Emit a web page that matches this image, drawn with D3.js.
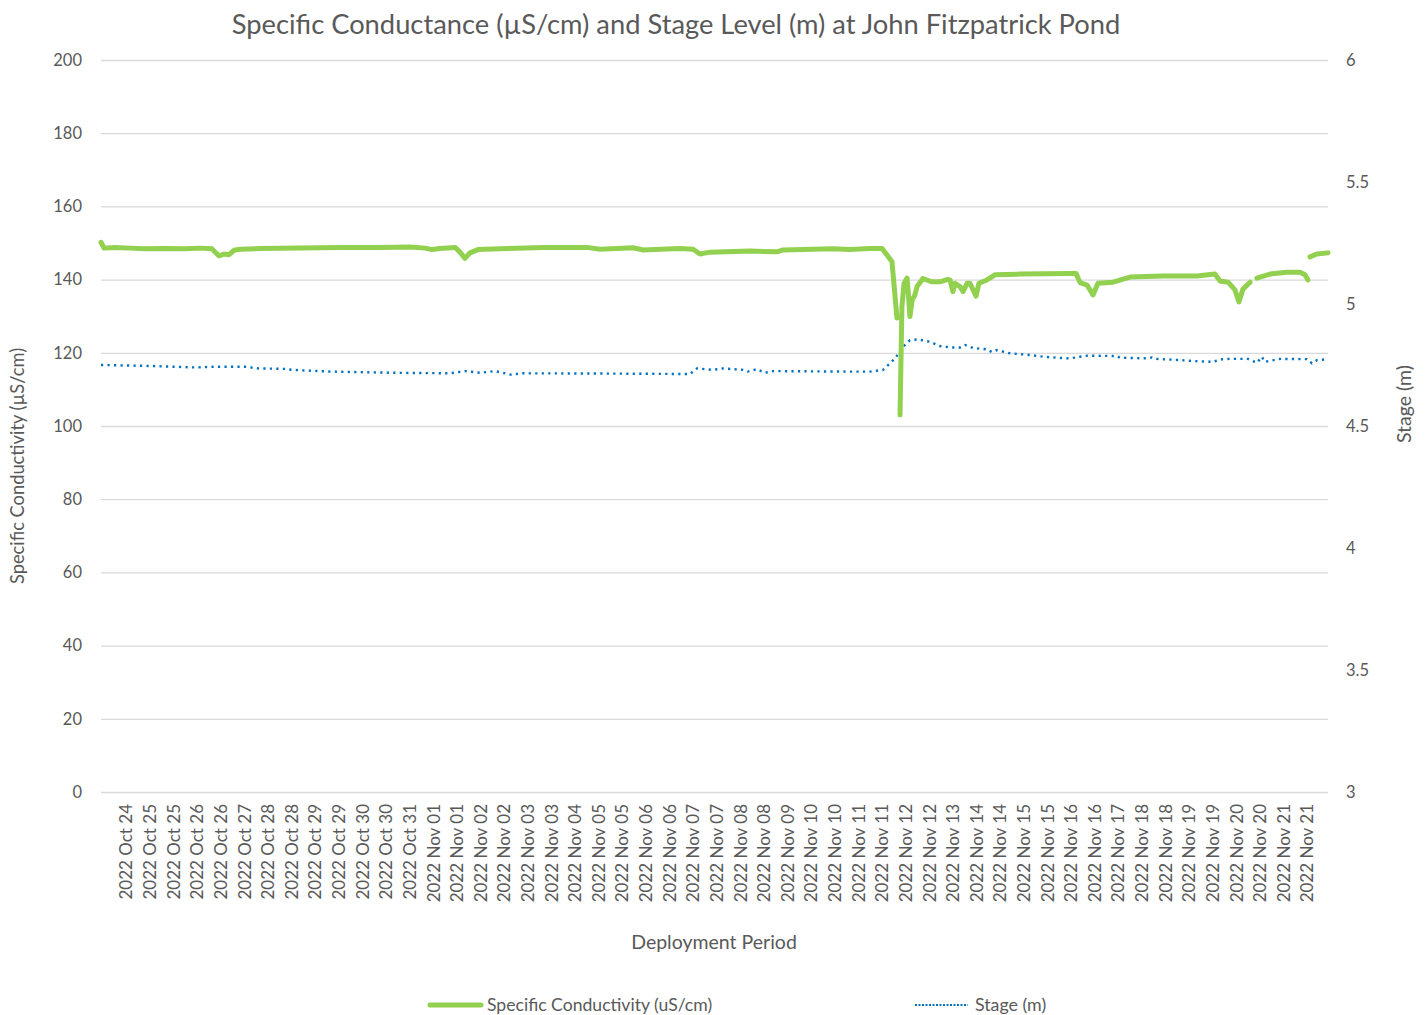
<!DOCTYPE html>
<html>
<head>
<meta charset="utf-8">
<script src="https://cdn.jsdelivr.net/npm/d3@7"></script>
<style>
  body { margin: 0; background: #fff; }
  svg text { font-family: Lato, "Open Sans", sans-serif; fill: #595959; }
</style>
</head>
<body>
<svg id="chart"></svg>
<script>
const svg = d3.select("#chart");
const width = 1427;
const height = 1015;

// category labels along the x axis (one per tick, Excel-style)
const tickLabels = [
  "2022 Oct 24", "2022 Oct 25", "2022 Oct 25", "2022 Oct 26", "2022 Oct 26", "2022 Oct 27",
  "2022 Oct 28", "2022 Oct 28", "2022 Oct 29", "2022 Oct 29", "2022 Oct 30", "2022 Oct 30",
  "2022 Oct 31", "2022 Nov 01", "2022 Nov 01", "2022 Nov 02", "2022 Nov 02", "2022 Nov 03",
  "2022 Nov 03", "2022 Nov 04", "2022 Nov 05", "2022 Nov 05", "2022 Nov 06", "2022 Nov 06",
  "2022 Nov 07", "2022 Nov 07", "2022 Nov 08", "2022 Nov 08", "2022 Nov 09", "2022 Nov 10",
  "2022 Nov 10", "2022 Nov 11", "2022 Nov 11", "2022 Nov 12", "2022 Nov 12", "2022 Nov 13",
  "2022 Nov 14", "2022 Nov 14", "2022 Nov 15", "2022 Nov 15", "2022 Nov 16", "2022 Nov 16",
  "2022 Nov 17", "2022 Nov 18", "2022 Nov 18", "2022 Nov 19", "2022 Nov 19", "2022 Nov 20",
  "2022 Nov 20", "2022 Nov 21", "2022 Nov 21"
];

// position along the axis, in tick-label units (label i sits at i)
const xStart = -1.06;
const xEnd = 50.89;

// Specific conductivity (uS/cm); null = gap in the record
const condPos = [
  -1.06, -0.93, -0.47, 0.17, 0.80, 1.65, 2.50, 3.13, 3.64, 3.77, 3.94, 4.15, 4.36, 4.57, 4.83,
  5.67, 7.37, 9.06, 10.75, 12.02, 12.66, 12.96, 13.29, 13.93, 14.14, 14.35, 14.56, 14.90, 15.83,
  17.65, 19.52, 20.07, 21.46, 21.89, 23.45, 24.01, 24.30, 24.72, 26.42, 27.56, 27.82, 29.93,
  30.65, 31.50, 32.01, 32.22, 32.43, 32.51, 32.64, 32.70,
  32.77, 32.85, 32.94, 33.07, 33.11, 33.19, 33.28, 33.40, 33.49, 33.74, 34.12, 34.46, 34.76,
  34.89, 35.01, 35.10, 35.31, 35.44, 35.61, 35.73, 35.99, 36.11, 36.45, 36.79, 37.85, 39.97,
  40.22, 40.39, 40.69, 40.94, 41.15, 41.79, 42.51, 43.90, 45.34, 46.10, 46.32, 46.66, 46.95,
  47.12, 47.29, 47.59, 47.73,
  47.88, 48.43, 49.15, 49.70, 49.92, 50.04, 50.08,
  50.13, 50.42, 50.89
];
const condVal = [
  150.2, 148.6, 148.8, 148.6, 148.4, 148.5, 148.4, 148.6, 148.4, 147.5, 146.5, 147.0, 146.8, 148.0, 148.3,
  148.5, 148.6, 148.8, 148.8, 148.9, 148.6, 148.2, 148.5, 148.8, 147.5, 145.8, 147.3, 148.2, 148.4,
  148.8, 148.8, 148.3, 148.7, 148.1, 148.5, 148.3, 147.0, 147.5, 147.8, 147.6, 148.1, 148.4,
  148.2, 148.5, 148.5, 146.7, 144.9, 139.0, 129.5, null,
  103.0, 132.6, 139.0, 140.4, 137.2, 129.9, 134.4, 135.8, 138.1, 140.3, 139.4, 139.4, 140.0,
  139.9, 136.7, 139.0, 138.1, 136.7, 139.0, 139.0, 135.5, 139.0, 139.9, 141.3, 141.5, 141.7,
  141.7, 139.2, 138.5, 135.8, 139.0, 139.3, 140.7, 141.0, 141.0, 141.5, 139.6, 139.3, 137.2,
  133.9, 137.4, 139.3, null,
  140.4, 141.5, 142.0, 142.0, 141.3, 139.9, null,
  146.2, 147.0, 147.3
];

// Stage (m)
const stagePos = [
  -1.06, 1.02, 2.92, 3.85, 5.04, 5.59, 6.73, 7.03, 8.64, 11.39, 13.72, 14.35, 14.99, 15.62,
  16.05, 16.34, 16.68, 20.07, 23.88, 24.17, 24.85, 25.27, 26.12, 26.33, 26.71, 27.05, 27.39,
  30.52, 31.50, 32.05, 32.35, 32.56, 32.90, 33.19, 33.53, 34.04, 34.46, 34.89, 35.31, 35.52,
  35.86, 36.45, 36.66, 36.88, 37.43, 38.27, 38.82, 39.42, 39.97, 40.39, 40.69, 41.96, 42.08,
  43.23, 43.44, 43.65, 44.62, 45.26, 46.02, 46.32, 46.74, 47.50, 47.88, 48.09, 48.21, 48.86,
  50.00, 50.21, 50.42, 50.89
];
const stageVal = [
  4.750, 4.746, 4.740, 4.743, 4.743, 4.736, 4.734, 4.730, 4.723, 4.718, 4.716, 4.725, 4.718, 4.725,
  4.716, 4.709, 4.716, 4.715, 4.713, 4.736, 4.730, 4.736, 4.730, 4.723, 4.733, 4.718, 4.725,
  4.723, 4.723, 4.730, 4.757, 4.777, 4.825, 4.852, 4.855, 4.845, 4.828, 4.822, 4.822, 4.832,
  4.820, 4.814, 4.803, 4.811, 4.798, 4.791, 4.784, 4.780, 4.777, 4.784, 4.788, 4.787, 4.780,
  4.777, 4.781, 4.775, 4.770, 4.766, 4.763, 4.773, 4.775, 4.775, 4.759, 4.784, 4.763, 4.775,
  4.774, 4.757, 4.770, 4.774
];

const condTicks = [0, 20, 40, 60, 80, 100, 120, 140, 160, 180, 200];
const stageTicks = [3, 3.5, 4, 4.5, 5, 5.5, 6];

const margin = { top: 60, right: 99, bottom: 223, left: 101 };
const plotW = width - margin.left - margin.right;
const plotH = height - margin.top - margin.bottom;

svg.attr("width", width).attr("height", height);

const x = d3.scaleLinear().domain([xStart, xEnd]).range([margin.left, margin.left + plotW]);
const yCond = d3.scaleLinear().domain([0, 200]).range([margin.top + plotH, margin.top]);
const yStage = d3.scaleLinear().domain([3, 6]).range([margin.top + plotH, margin.top]);

// gridlines
svg.append("g")
  .selectAll("line")
  .data(condTicks)
  .join("line")
  .attr("x1", margin.left)
  .attr("x2", margin.left + plotW)
  .attr("y1", d => yCond(d) + 0.5)
  .attr("y2", d => yCond(d) + 0.5)
  .attr("stroke", "#d9d9d9")
  .attr("stroke-width", 1.3);

// left axis
const leftAxis = svg.append("g")
  .attr("transform", `translate(${margin.left - 19},0)`)
  .call(d3.axisLeft(yCond).tickValues(condTicks).tickSize(0).tickPadding(0));
leftAxis.select(".domain").remove();
leftAxis.selectAll("text").attr("font-size", "16.5px").attr("font-family", "Lato, sans-serif").attr("fill", "#595959");

// right axis
const rightAxis = svg.append("g")
  .attr("transform", `translate(${margin.left + plotW + 18},0)`)
  .call(d3.axisRight(yStage).tickValues(stageTicks).tickSize(0).tickPadding(0).tickFormat(d => d));
rightAxis.select(".domain").remove();
rightAxis.selectAll("text").attr("font-size", "16.5px").attr("font-family", "Lato, sans-serif").attr("fill", "#595959");

// bottom axis, rotated labels
const bottomAxis = svg.append("g")
  .attr("transform", `translate(0,${margin.top + plotH + 12})`)
  .call(d3.axisBottom(x).tickValues(d3.range(tickLabels.length)).tickSize(0).tickPadding(0)
    .tickFormat(i => tickLabels[i]));
bottomAxis.select(".domain").remove();
bottomAxis.selectAll("text")
  .attr("font-size", "17px")
  .attr("font-family", "Lato, sans-serif")
  .attr("fill", "#595959")
  .attr("transform", "rotate(-90)")
  .attr("text-anchor", "end")
  .attr("x", 0)
  .attr("y", 0)
  .attr("dy", "0.35em");

// lines
const condData = condPos.map((p, i) => [p, condVal[i]]);
const stageData = stagePos.map((p, i) => [p, stageVal[i]]);

const condLine = d3.line()
  .defined(d => d[1] != null)
  .x(d => x(d[0]))
  .y(d => yCond(d[1]));

const stageLine = d3.line()
  .x(d => x(d[0]))
  .y(d => yStage(d[1]));

svg.append("path")
  .datum(stageData)
  .attr("d", stageLine)
  .attr("fill", "none")
  .attr("stroke", "#0070c0")
  .attr("stroke-width", 2.4)
  .attr("stroke-dasharray", "2.2 4.3");

svg.append("path")
  .datum(condData)
  .attr("d", condLine)
  .attr("fill", "none")
  .attr("stroke", "#92d050")
  .attr("stroke-width", 5)
  .attr("stroke-linecap", "round")
  .attr("stroke-linejoin", "round");

// titles
svg.append("text")
  .attr("x", 676)
  .attr("y", 34)
  .attr("text-anchor", "middle")
  .attr("font-size", "27.3px")
  .text("Specific Conductance (µS/cm) and Stage Level (m) at John Fitzpatrick Pond");

svg.append("text")
  .attr("transform", `translate(24,466) rotate(-90)`)
  .attr("text-anchor", "middle")
  .attr("font-size", "18.3px")
  .text("Specific Conductivity (µS/cm)");

svg.append("text")
  .attr("transform", `translate(1411,404) rotate(-90)`)
  .attr("text-anchor", "middle")
  .attr("font-size", "19.5px")
  .text("Stage (m)");

svg.append("text")
  .attr("x", 714)
  .attr("y", 949)
  .attr("text-anchor", "middle")
  .attr("font-size", "19.5px")
  .text("Deployment Period");

// legend
const legend = svg.append("g").attr("transform", "translate(0,1005)");
legend.append("line")
  .attr("x1", 430).attr("x2", 481)
  .attr("stroke", "#92d050").attr("stroke-width", 5).attr("stroke-linecap", "round");
legend.append("text")
  .attr("x", 487).attr("dy", "0.35em")
  .attr("font-size", "17.6px")
  .text("Specific Conductivity (uS/cm)");
legend.append("line")
  .attr("x1", 915).attr("x2", 968)
  .attr("stroke", "#0070c0").attr("stroke-width", 2).attr("stroke-dasharray", "2 1.5");
legend.append("text")
  .attr("x", 975).attr("dy", "0.35em")
  .attr("font-size", "17.8px")
  .text("Stage (m)");
</script>
</body>
</html>
